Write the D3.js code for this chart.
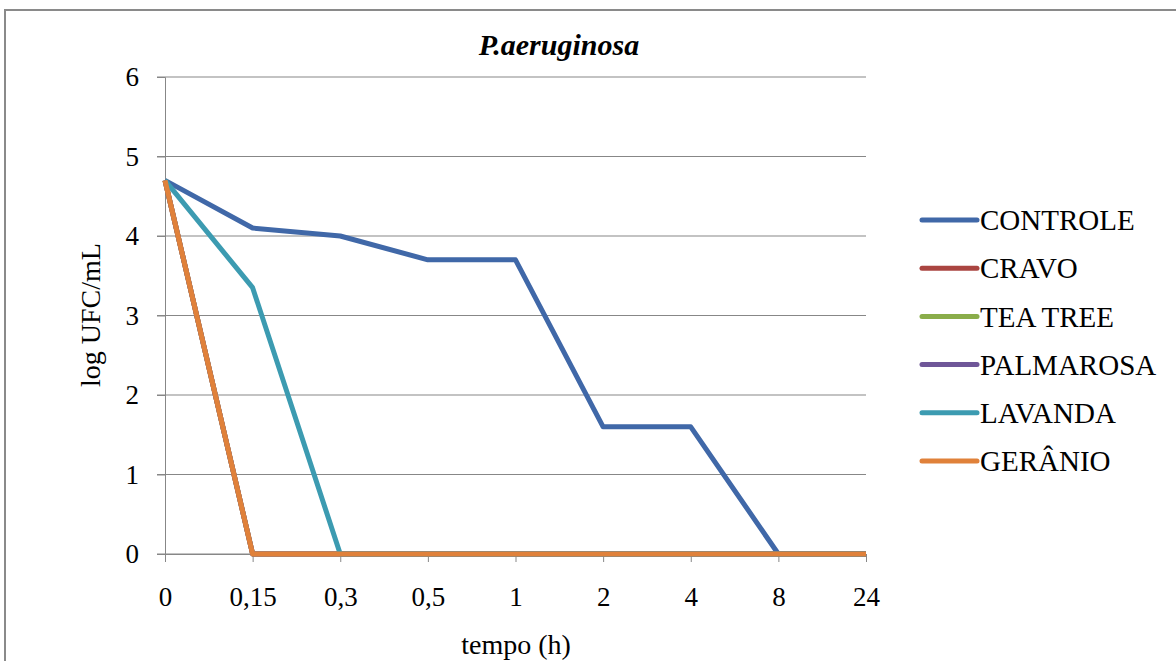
<!DOCTYPE html>
<html>
<head>
<meta charset="utf-8">
<script src="https://cdn.jsdelivr.net/npm/d3@7"></script>
<style>
  html, body { margin: 0; padding: 0; background: #fff; overflow: hidden; }
</style>
</head>
<body>
<svg id="chart" width="1176" height="661"></svg>
<script>
const categories = ["0", "0,15", "0,3", "0,5", "1", "2", "4", "8", "24"];
const yTicks = [0, 1, 2, 3, 4, 5, 6];
const seriesNames = ["CONTROLE", "CRAVO", "TEA TREE", "PALMAROSA", "LAVANDA", "GERÂNIO"];
const controle  = [4.7, 4.1, 4.0, 3.7, 3.7, 1.6, 1.6, 0, 0];
const cravo     = [4.7, 0, 0, 0, 0, 0, 0, 0, 0];
const teaTree   = [4.7, 0, 0, 0, 0, 0, 0, 0, 0];
const palmarosa = [4.7, 0, 0, 0, 0, 0, 0, 0, 0];
const lavanda   = [4.7, 3.35, 0, 0, 0, 0, 0, 0, 0];
const geranio   = [4.7, 0, 0, 0, 0, 0, 0, 0, 0];
const seriesColors = ["#4068A8", "#AA4541", "#8AAD4A", "#6F5698", "#3C9BB1", "#E0813A"];

const FONT = '"Liberation Serif", "Times New Roman", Tinos, serif';
const seriesValues = [controle, cravo, teaTree, palmarosa, lavanda, geranio];
const svg = d3.select("#chart");

// outer chart border
svg.append("rect")
  .attr("x", 5).attr("y", 10).attr("width", 1190).attr("height", 680)
  .attr("fill", "none").attr("stroke", "#8a8a8a").attr("stroke-width", 2);

const x = d3.scalePoint().domain(categories).range([165, 866]);
const y = d3.scaleLinear().domain([0, 6]).range([554, 77]);

// gridlines
svg.append("g").selectAll("line").data(yTicks).join("line")
  .attr("x1", 157).attr("x2", 866)
  .attr("y1", d => y(d)).attr("y2", d => y(d))
  .attr("stroke", "#878787").attr("stroke-width", 1);

// y axis
const yAxis = svg.append("g").attr("transform", "translate(165,0)")
  .call(d3.axisLeft(y).tickValues(yTicks).tickSize(8).tickPadding(18).tickFormat(d3.format("d")));
yAxis.select(".domain").attr("stroke", "#878787");
yAxis.selectAll(".tick line").attr("stroke", "#878787");
yAxis.selectAll("text").style("font-family", FONT).style("font-size", "27px").attr("fill", "#000");

// x axis
const xAxis = svg.append("g").attr("transform", "translate(0,554)")
  .call(d3.axisBottom(x).tickSize(8).tickPadding(25).tickSizeOuter(0));
xAxis.select(".domain").attr("stroke", "#878787");
xAxis.selectAll(".tick line").attr("stroke", "#878787");
xAxis.selectAll("text").style("font-family", FONT).style("font-size", "27px").attr("fill", "#000");

// lines
const line = d3.line()
  .x((d, i) => x(categories[i]))
  .y(d => y(d));

svg.append("g").selectAll("path").data(seriesValues).join("path")
  .attr("d", d => line(d))
  .attr("fill", "none")
  .attr("stroke", (d, i) => seriesColors[i])
  .attr("stroke-width", 5)
  .attr("stroke-linejoin", "round")
  .attr("stroke-linecap", "butt");

// title
svg.append("text")
  .attr("x", 559).attr("y", 55)
  .attr("text-anchor", "middle")
  .style("font-family", FONT).style("font-size", "30px")
  .style("font-weight", "bold").style("font-style", "italic")
  .text("P.aeruginosa");

// axis titles
svg.append("text")
  .attr("transform", "translate(100,315) rotate(-90)")
  .attr("text-anchor", "middle")
  .style("font-family", FONT).style("font-size", "28px")
  .text("log UFC/mL");

svg.append("text")
  .attr("x", 516).attr("y", 654)
  .attr("text-anchor", "middle")
  .style("font-family", FONT).style("font-size", "28px")
  .text("tempo (h)");

// legend
const legend = svg.append("g").attr("transform", "translate(922,220)");
const items = legend.selectAll("g").data(seriesNames).join("g")
  .attr("transform", (d, i) => `translate(0,${i * 48.2})`);
items.append("line")
  .attr("x1", 0).attr("x2", 55).attr("y1", 0).attr("y2", 0)
  .attr("stroke", (d, i) => seriesColors[i])
  .attr("stroke-width", 5).attr("stroke-linecap", "round");
items.append("text")
  .attr("x", 58).attr("y", 0).attr("dy", "0.35em")
  .style("font-family", FONT).style("font-size", "29px")
  .text(d => d);
</script>
</body>
</html>
